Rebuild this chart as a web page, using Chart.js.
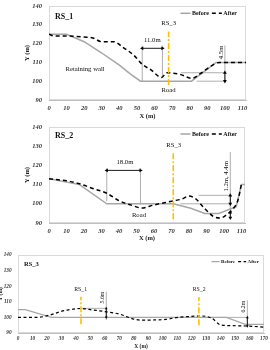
<!DOCTYPE html>
<html>
<head>
<meta charset="utf-8">
<script src="https://cdn.jsdelivr.net/npm/chart.js@4.4.1/dist/chart.umd.min.js"></script>
<style>
  body { margin: 0; background: #fff; width: 270px; height: 350px; position: relative; overflow: hidden; }
  canvas { position: absolute; left: 0; }
</style>
</head>
<body>
<canvas id="g1" width="270" height="120" style="top:0"></canvas>
<canvas id="g2" width="270" height="122" style="top:120px"></canvas>
<canvas id="g3" width="270" height="108" style="top:242px"></canvas>
<script>
// ---- dados ----
const yTicks = [90, 100, 110, 120, 130, 140];

// RS_1
const rs1AntesX  = [0, 10, 20, 30, 40, 46, 52, 81, 95, 112];
const rs1AntesY  = [125, 125, 121, 115, 108.5, 104, 100, 100, 110, 110];
const rs1DepoisX = [0, 3, 10, 20, 25, 30, 37, 42, 48, 53, 58, 64, 67, 75, 81, 86, 92, 97, 112];
const rs1DepoisY = [125, 124, 124, 123.5, 123, 121, 121, 118, 114, 109, 106, 102, 104.5, 103.5, 101.5, 104, 108, 110, 110];

// RS_2
const rs2AntesX  = [0, 17.5, 33, 71, 81, 89, 97, 107, 110, 112];
const rs2AntesY  = [113, 110, 100, 100, 97.7, 95, 95, 98.5, 110, 110];
const rs2DepoisX = [0, 10, 17.5, 25, 33, 40, 47, 53, 60, 71, 76, 80, 84, 88, 94, 98, 102, 105.5, 108, 110];
const rs2DepoisY = [113, 112, 110.4, 108, 105.5, 101.6, 99.3, 97.8, 99.4, 101.5, 102.5, 104, 102.5, 98.5, 93.4, 92.6, 94.7, 97.7, 102, 110.5];

// RS_3
const rs3AntesX  = [0, 5, 23, 144, 157, 170];
const rs3AntesY  = [105, 105, 100, 100, 95.5, 95.5];
const rs3DepoisX = [0, 13, 22, 29, 34, 43, 52, 61, 71, 80, 86, 92, 102, 109, 116, 127, 134, 140, 148, 157, 170];
const rs3DepoisY = [100, 100, 101.5, 103.6, 104.7, 105.7, 104.7, 103.6, 101.9, 98.9, 98.2, 98.3, 98.7, 99.8, 100.4, 100.9, 99.4, 95.2, 94.7, 94.5, 93.8];

// cotas (x1, y1, x2, y2) em coordenadas dos dados
const rs1Guias   = [[53, 100, 53, 119], [64.5, 102, 64.5, 119], [75, 104.5, 100, 104.5], [84, 100, 100, 100], [100, 99.5, 100, 119]];
const rs1Setas   = [[53, 117.5, 64.5, 117.5], [100, 100, 100, 104.5]];
const rs1Secao   = [[68, 98, 68, 126.5]];
const rs1Textos  = [
  { t: '11.0m', x: 58.7, y: 122 },
  { t: 'RS_3', x: 68, y: 130.8 },
  { t: 'Road', x: 68, y: 95 },
  { t: 'Retaining wall', x: 20.5, y: 106.5 },
  { t: '4.5m', x: 98, y: 115.3, rot: true }
];

const rs2Guias   = [[33, 101.3, 33, 118.6], [52.3, 99.6, 52.3, 118.6], [85.5, 104.4, 103.6, 104.4], [75, 100, 103.6, 100], [103.6, 92.7, 103.6, 127]];
const rs2Setas   = [[33, 117.4, 52.3, 117.4], [103.6, 100, 103.6, 104.4], [103.6, 92.7, 103.6, 95.5]];
const rs2Secao   = [[71, 92, 71, 126.8]];
const rs2Textos  = [
  { t: '18.0m', x: 43.4, y: 121.7 },
  { t: 'RS_3', x: 71.3, y: 130.7 },
  { t: 'Road', x: 51.4, y: 94.3 },
  { t: '1.2m, 4.4m', x: 101.3, y: 114.3, rot: true }
];

const rs3Guias   = [[43.9, 105.8, 61, 105.8], [61, 98.3, 61, 116.5], [140, 100, 158.5, 100], [158.5, 93.4, 158.5, 111]];
const rs3Setas   = [[61, 100, 61, 105.8], [158.5, 94.5, 158.5, 100]];
const rs3Secao   = [[43.5, 95.6, 43.5, 113.3], [125, 95, 125, 113]];
const rs3Textos  = [
  { t: 'RS_1', x: 43.3, y: 118 },
  { t: 'RS_2', x: 125.2, y: 117.6 },
  { t: '5.6m', x: 58.1, y: 112.7, rot: true },
  { t: '6.2m', x: 156, y: 106.9, rot: true }
];

const serif = '"Liberation Serif", "Times New Roman", serif';

function pontos(xs, ys) {
  return xs.map((x, i) => ({ x: x, y: ys[i] }));
}

// junta segmentos numa só série, separados por lacunas
function segmentos(lista) {
  const out = [];
  lista.forEach(s => {
    const vertical = s[0] === s[2];
    const r1 = vertical ? (s[1] < s[3] ? 180 : 0) : 270;
    const r2 = vertical ? (s[1] < s[3] ? 0 : 180) : 90;
    out.push({ x: s[0], y: s[1], r: r1 });
    out.push({ x: s[2], y: s[3], r: r2 });
    out.push({ x: s[2], y: null });
  });
  return out;
}

// plugin: moldura, título, legenda e textos
const decor = {
  id: 'decor',
  beforeDatasetsDraw(chart) {
    const a = chart.chartArea, ctx = chart.ctx;
    ctx.save();
    ctx.strokeStyle = '#d9d9d9';
    ctx.lineWidth = 1;
    ctx.strokeRect(a.left + 0.5, a.top + 0.5, a.right - a.left - 1, a.bottom - a.top - 1);
    ctx.restore();
  },
  afterDatasetsDraw(chart, args, o) {
    const ctx = chart.ctx, a = chart.chartArea;
    const sx = chart.scales.x, sy = chart.scales.y;
    ctx.save();
    ctx.fillStyle = '#111';
    ctx.textBaseline = 'middle';

    ctx.font = 'bold ' + o.tituloFonte + 'px ' + serif;
    ctx.textAlign = 'left';
    ctx.fillText(o.titulo, a.left + 6, a.top + o.tituloY);

    ctx.font = o.notaFonte + 'px ' + serif;
    ctx.textAlign = 'center';
    o.notas.forEach(n => {
      const px = sx.getPixelForValue(n.x), py = sy.getPixelForValue(n.y);
      if (n.rot) {
        ctx.save();
        ctx.translate(px, py);
        ctx.rotate(-Math.PI / 2);
        ctx.fillText(n.t, 0, 0);
        ctx.restore();
      } else {
        ctx.fillText(n.t, px, py);
      }
    });

    // legenda
    ctx.font = 'bold ' + o.legFonte + 'px ' + serif;
    ctx.textAlign = 'right';
    let x = a.right - o.legDir;
    const y = a.top + o.legY;
    const ds = chart.data.datasets;
    for (let i = 1; i >= 0; i--) {
      const d = ds[i];
      ctx.fillText(d.label, x, y);
      x -= ctx.measureText(d.label).width + 1.5;
      ctx.beginPath();
      ctx.setLineDash(d.borderDash || []);
      ctx.strokeStyle = d.borderColor;
      ctx.lineWidth = d.borderWidth;
      ctx.moveTo(x - o.legLinha, y);
      ctx.lineTo(x, y);
      ctx.stroke();
      ctx.setLineDash([]);
      x -= o.legLinha + 3;
    }
    ctx.restore();
  }
};

function grafico(id, c) {
  const fonteTick = { family: serif, size: c.tick, style: 'italic', weight: 'bold' };
  const fonteTitulo = { family: serif, size: c.eixo, weight: 'bold' };
  new Chart(document.getElementById(id), {
    type: 'line',
    data: {
      datasets: [
        { label: 'Before', data: pontos(c.antesX, c.antesY), borderColor: '#a6a6a6', borderWidth: c.lw, pointRadius: 0, order: 2 },
        { label: 'After', data: pontos(c.depoisX, c.depoisY), borderColor: '#000', borderWidth: c.lw, borderDash: c.dash, pointRadius: 0, cubicInterpolationMode: 'monotone', order: 1 },
        { label: 'guias', data: segmentos(c.guias), borderColor: '#9a9a9a', borderWidth: 0.8, pointRadius: 0, spanGaps: false, order: 3 },
        { label: 'setas', data: segmentos(c.setas), borderColor: '#000', borderWidth: 0.9, spanGaps: false, order: 0,
          pointStyle: 'triangle', pointRadius: c.seta, pointBorderWidth: 0, pointBackgroundColor: '#000',
          pointRotation: ctx => (ctx.raw && ctx.raw.r) || 0 },
        { label: 'secao', data: segmentos(c.secao), borderColor: '#FFC000', borderWidth: 1.6, borderDash: [6, 2, 2, 2], pointRadius: 0, spanGaps: false, order: 0 }
      ]
    },
    options: {
      responsive: false,
      animation: false,
      events: [],
      layout: { padding: { top: c.topo, right: c.dir, left: c.esq, bottom: 0 } },
      scales: {
        x: {
          type: 'linear', min: 0, max: c.xMax,
          ticks: { stepSize: 10, includeBounds: false, font: fonteTick, color: '#333', maxRotation: 0, padding: c.tickPadX },
          grid: { display: false, drawTicks: false },
          border: { color: '#bfbfbf' },
          title: { display: true, text: 'X (m)', font: fonteTitulo, color: '#222', padding: 0 },
          afterFit: s => { s.height = c.altX; s.paddingLeft = 0; s.paddingRight = 0; }
        },
        y: {
          type: 'linear', min: 90, max: 140,
          afterBuildTicks: s => { s.ticks = yTicks.map(v => ({ value: v })); },
          ticks: { font: fonteTick, color: '#333', padding: c.tickPadY },
          grid: { display: false, drawTicks: false },
          border: { color: '#bfbfbf' },
          title: { display: true, text: 'Y (m)', font: fonteTitulo, color: '#222', padding: 0 },
          afterFit: s => { s.width = c.largY; s.paddingTop = 0; s.paddingBottom = 0; }
        }
      },
      plugins: {
        legend: { display: false },
        tooltip: { enabled: false },
        decor: {
          titulo: c.titulo, tituloFonte: c.tituloFonte, tituloY: c.tituloY,
          notas: c.notas, notaFonte: c.notaFonte,
          legFonte: c.legFonte, legDir: c.legDir, legY: c.legY, legLinha: c.legLinha
        }
      }
    },
    plugins: [decor]
  });
}

grafico('g1', {
  antesX: rs1AntesX, antesY: rs1AntesY, depoisX: rs1DepoisX, depoisY: rs1DepoisY,
  guias: rs1Guias, setas: rs1Setas, secao: rs1Secao, notas: rs1Textos,
  titulo: 'RS_1', xMax: 112,
  topo: 6, dir: 24, esq: 23, largY: 26, altX: 20, tickPadX: 4, tickPadY: 7,
  tick: 6.5, eixo: 6.5, lw: 1.5, dash: [4, 3], seta: 2.2,
  tituloFonte: 8, tituloY: 10.7, notaFonte: 6.7,
  legFonte: 6, legDir: 9, legY: 7.3, legLinha: 10
});

grafico('g2', {
  antesX: rs2AntesX, antesY: rs2AntesY, depoisX: rs2DepoisX, depoisY: rs2DepoisY,
  guias: rs2Guias, setas: rs2Setas, secao: rs2Secao, notas: rs2Textos,
  titulo: 'RS_2', xMax: 112,
  topo: 7, dir: 25, esq: 23, largY: 26, altX: 19, tickPadX: 4.5, tickPadY: 7,
  tick: 6.5, eixo: 6.5, lw: 1.5, dash: [4, 3], seta: 2.2,
  tituloFonte: 8, tituloY: 9, notaFonte: 6.7,
  legFonte: 6, legDir: 8, legY: 7, legLinha: 10
});

grafico('g3', {
  antesX: rs3AntesX, antesY: rs3AntesY, depoisX: rs3DepoisX, depoisY: rs3DepoisY,
  guias: rs3Guias, setas: rs3Setas, secao: rs3Secao, notas: rs3Textos,
  titulo: 'RS_3', xMax: 170,
  topo: 13, dir: 6, esq: -3, largY: 21, altX: 17, tickPadX: 3, tickPadY: 6.5,
  tick: 5.2, eixo: 5.5, lw: 1.2, dash: [3, 2.5], seta: 1.6,
  tituloFonte: 6.5, tituloY: 9, notaFonte: 5.8,
  legFonte: 5, legDir: 5, legY: 6.6, legLinha: 8
});
</script>
</body>
</html>
